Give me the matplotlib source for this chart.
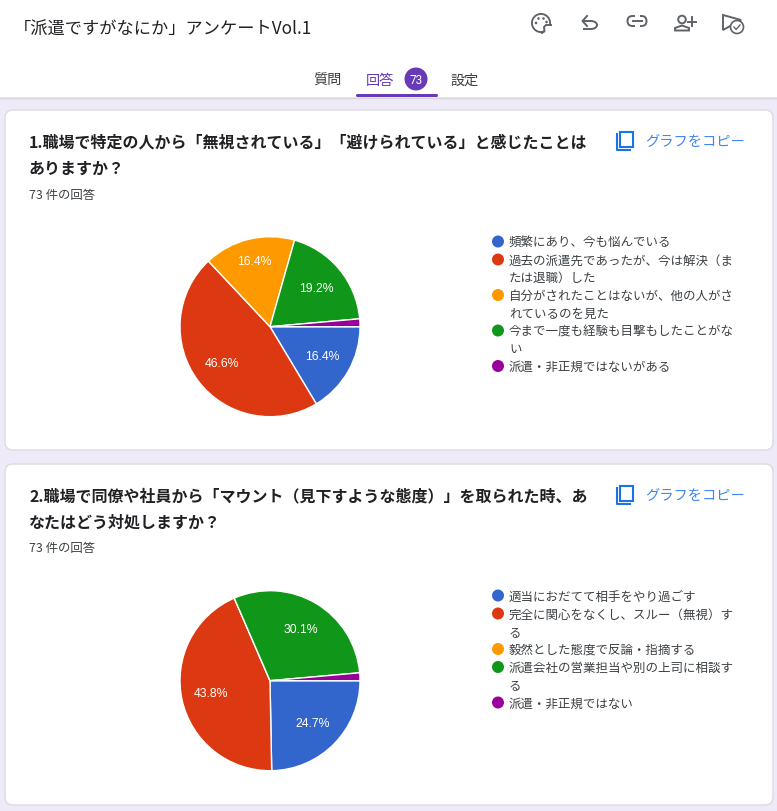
import matplotlib
matplotlib.use('Agg')
import matplotlib.pyplot as plt
from matplotlib.patches import Circle, FancyBboxPatch, Rectangle, Wedge, Polygon, Arc

plt.rcParams['font.family'] = ['Noto Sans CJK JP', 'DejaVu Sans']

W, H = 777, 812
colors = ['#3366CC', '#DC3912', '#FF9900', '#109618', '#990099']

title = '「派遣ですがなにか」アンケートVol.1'
tabs = ['質問', '回答', '設定']
n_resp = '73'
copy_label = 'グラフをコピー'
resp_label = '73 件の回答'

q1_lines = ['1.職場で特定の人から「無視されている」「避けられている」と感じたことは', 'ありますか？']
q1_values = [16.4, 46.6, 16.4, 19.2, 1.4]
q1_legend = [['頻繁にあり、今も悩んでいる'],
             ['過去の派遣先であったが、今は解決（ま', 'たは退職）した'],
             ['自分がされたことはないが、他の人がさ', 'れているのを見た'],
             ['今まで一度も経験も目撃もしたことがな', 'い'],
             ['派遣・非正規ではないがある']]

q2_lines = ['2.職場で同僚や社員から「マウント（見下すような態度）」を取られた時、あ', 'なたはどう対処しますか？']
q2_values = [24.7, 43.8, 0, 30.1, 1.4]
q2_legend = [['適当におだてて相手をやり過ごす'],
             ['完全に関心をなくし、スルー（無視）す', 'る'],
             ['毅然とした態度で反論・指摘する'],
             ['派遣会社の営業担当や別の上司に相談す', 'る'],
             ['派遣・非正規ではない']]

fig = plt.figure(figsize=(W / 100, H / 100), dpi=100, facecolor='#EEEAF7')
ax = fig.add_axes([0, 0, 1, 1])
ax.set_xlim(0, W)
ax.set_ylim(H, 0)
ax.axis('off')

# header
ax.add_patch(Rectangle((0, 0), W, 98, fc='white', ec='none'))
ax.plot([0, W], [98.5, 98.5], c='#D9D7DE', lw=1)
ax.text(14, 29.5, title, fontsize=12.4, color='#202124', va='center')
ax.text(327, 81, tabs[0], fontsize=10.2, color='#3C4043', va='center', ha='center')
ax.text(380, 81, tabs[1], fontsize=10.2, color='#673AB7', va='center', ha='center')
ax.text(465, 81, tabs[2], fontsize=10.2, color='#3C4043', va='center', ha='center')
ax.add_patch(Circle((416, 80), 11.5, fc='#673AB7', ec='none'))
ax.text(416, 80, n_resp, fontsize=8.5, color='white', va='center', ha='center', family='Roboto')
ax.add_patch(FancyBboxPatch((356, 95), 82, 3, boxstyle='round,pad=0,rounding_size=1.5', fc='#673AB7', ec='none'))

# toolbar icons
ic = '#5F6368'
lw = 1.4
ax.add_patch(Wedge((541, 24), 10, 65, 15, width=1.9, fc=ic, ec='none'))
ax.plot([551, 546, 544, 544.5, 542], [26, 26, 28, 32, 34], c=ic, lw=lw)
for x, y in [(536, 24), (538.5, 19.5), (543.5, 19.5), (546.5, 23)]:
    ax.add_patch(Circle((x, y), 1.3, fc=ic, ec='none'))
ax.add_patch(Arc((591, 26), 12, 8, theta1=-90, theta2=90, ec=ic, lw=lw))
ax.plot([583, 591], [22, 22], c=ic, lw=lw)
ax.plot([584, 591], [30, 30], c=ic, lw=lw)
ax.plot([587, 582.5, 587], [17, 22, 27], c=ic, lw=lw)
ax.add_patch(FancyBboxPatch((627.5, 17), 19, 10, boxstyle='round,pad=0,rounding_size=5', fc='none', ec=ic, lw=lw))
ax.add_patch(Rectangle((635, 16), 4.5, 12, fc='white', ec='none'))
ax.plot([632.5, 642], [22, 22], c=ic, lw=lw)
ax.add_patch(Circle((682, 20.5), 3.8, fc='white', ec=ic, lw=lw))
ax.add_patch(Polygon([(675, 31.5), (675, 29), (682, 26.5), (689, 29), (689, 31.5)], closed=True, fc='white', ec=ic, lw=lw))
ax.plot([687.5, 696], [22.5, 22.5], c=ic, lw=lw)
ax.plot([692, 692], [18, 27], c=ic, lw=lw)
ax.add_patch(Polygon([(723, 16), (741, 21), (723, 31)], closed=True, fc='white', ec=ic, lw=lw))
ax.add_patch(Circle((737, 28), 6.5, fc='white', ec=ic, lw=1.2))
ax.plot([734, 736, 740], [28, 30.5, 26], c=ic, lw=1)


def card(y0, y1, lines, values, legend, cy, leg_y):
    ax.add_patch(FancyBboxPatch((5, y0), 768, y1 - y0, boxstyle='round,pad=0,rounding_size=8',
                                fc='white', ec='#DADCE0', lw=1))
    ax.text(29, y0 + 31, lines[0], fontsize=11.5, fontweight='bold', color='#202124', va='center')
    ax.text(29, y0 + 58, lines[1], fontsize=11.5, fontweight='bold', color='#202124', va='center')
    ax.text(29, y0 + 84, resp_label, fontsize=8.9, color='#3C4043', va='center')
    # copy icon
    blue = '#1A73E8'
    ax.add_patch(Rectangle((620, y0 + 21.5), 12.5, 15, fc='none', ec=blue, lw=1.5))
    ax.plot([617, 617, 630], [y0 + 24, y0 + 40, y0 + 40], c=blue, lw=1.5)
    ax.text(645, y0 + 31, copy_label, fontsize=10.3, color='#4285F4', va='center')

    # pie, through the library
    R = 90
    pa = fig.add_axes([(270 - R) / W, 1 - (cy + 0.7 + R) / H, 2 * R / W, 2 * R / H])
    _, _, pct = pa.pie(values, colors=colors, startangle=0, counterclock=False, radius=1,
                       autopct=lambda p: '%.1f%%' % p if p > 5 else '', pctdistance=0.67,
                       wedgeprops={'edgecolor': 'white', 'linewidth': 1},
                       textprops={'color': 'white', 'fontsize': 8.8, 'family': 'Liberation Sans'})
    # orange label sits further out in the original
    px, py = pct[2].get_position()
    pct[2].set_position((px * 1.12, py * 1.12))
    pa.set_xlim(-1, 1)
    pa.set_ylim(-1, 1)

    y = leg_y
    for col, item in zip(colors, legend):
        ax.add_patch(Circle((498, y), 6, fc=col, ec='none'))
        for k, line in enumerate(item):
            ax.text(509, y + k * 17.5 + 0.5, line, fontsize=8.98, color='#3C4043', va='center')
        y += 17.5 * (len(item) - 1) + 18


card(111, 451, q1_lines, q1_values, q1_legend, 327, 242.5)
card(465, 806, q2_lines, q2_values, q2_legend, 681, 596.5)

fig.savefig('out.png', dpi=100, facecolor=fig.get_facecolor())
